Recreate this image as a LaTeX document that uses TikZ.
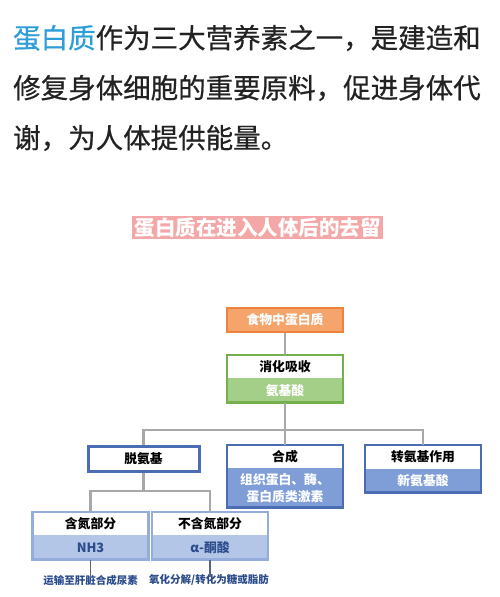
\documentclass[tikz,border=0pt]{standalone}
\usepackage{fontspec}
\newfontfamily\cjk{Noto Sans CJK SC}
\newfontfamily\cjkmed[FakeBold=0.6]{Noto Sans CJK SC}
\usetikzlibrary{positioning}
\definecolor{ink}{HTML}{222222}
\definecolor{sky}{HTML}{2E9ED8}
\definecolor{band}{HTML}{F4A7A7}
\definecolor{orfill}{HTML}{F5A46C}
\definecolor{ordraw}{HTML}{EE8340}
\definecolor{grfill}{HTML}{A4CF88}
\definecolor{grdraw}{HTML}{74B04C}
\definecolor{bldraw}{HTML}{4A6DB4}
\definecolor{blfill}{HTML}{7F9DD6}
\definecolor{lbdraw}{HTML}{94ADDC}
\definecolor{lbfill}{HTML}{B4C6E7}
\definecolor{navy}{HTML}{2B4C8C}
\definecolor{wire}{HTML}{A8A8A8}
\definecolor{tick}{HTML}{5A6378}
\tikzset{
  intro/.style={anchor=west, inner sep=0pt, text=ink, font=\cjkmed\fontsize{27.5}{30}\selectfont},
  box/.style={inner sep=0pt, minimum width=116pt, minimum height=23pt, align=center,
    font=\cjk\fontsize{12.8}{17}\selectfont\bfseries},
  hdr/.style={box, fill=white, text=black},
  body/.style={box, text=white},
  frame/.style={line width=2.5pt},
  link/.style={wire, line width=2.5pt},
  note/.style={inner sep=0pt, text=navy, font=\cjk\fontsize{10.5}{12}\selectfont\bfseries}
}
\begin{document}
\begin{tikzpicture}[x=1pt, y=-1pt]
  \useasboundingbox[fill=white] (0,0) rectangle (500,597);
  \node[intro] (l1) at (13,38) {\textcolor{sky}{蛋白质}作为三大营养素之一，是建造和};
  \node[intro] (l2) at (13,88) {修复身体细胞的重要原料，促进身体代};
  \node[intro] (l3) at (13,138) {谢，为人体提供能量。};
  \node[fill=band, text=white, inner xsep=2.5pt, inner ysep=0pt, minimum height=23pt,
    font=\cjk\fontsize{20.5}{22}\selectfont\bfseries] (title) at (257.5,227.5) {蛋白质在进入人体后的去留};

  \node[box, fill=orfill, draw=ordraw, frame, text=white, minimum height=24pt] (food) at (285,320) {食物中蛋白质};
  \node[hdr] (digh) at (285,366.5) {消化吸收};
  \node[body, fill=grfill, minimum height=24pt, below=0pt of digh] (digb) {氨基酸};
  \draw[grdraw, frame] (digh.north west) rectangle (digb.south east);

  \node[hdr, draw=bldraw, line width=3pt, minimum width=111pt, minimum height=25pt] (deam) at (143.5,458.5) {脱氨基};
  \node[hdr] (synh) at (285,456.5) {合成};
  \node[body, fill=blfill, minimum height=39pt, below=0pt of synh] (synb) {组织蛋白、酶、\\蛋白质类激素};
  \draw[bldraw, frame] (synh.north west) rectangle (synb.south east);
  \node[hdr, minimum height=24pt] (transh) at (423,457) {转氨基作用};
  \node[body, fill=blfill, below=0pt of transh] (transb) {新氨基酸};
  \draw[bldraw, frame] (transh.north west) rectangle (transb.south east);

  \node[hdr] (nh) at (90.5,523.5) {含氮部分};
  \node[body, fill=lbfill, text=navy, minimum height=24pt, below=0pt of nh] (nhb) {NH3};
  \draw[lbdraw, frame] (nh.north west) rectangle (nhb.south east);
  \node[hdr] (keto) at (210,523.5) {不含氮部分};
  \node[body, fill=lbfill, text=navy, minimum height=24pt, below=0pt of keto] (ketob) {α-酮酸};
  \draw[lbdraw, frame] (keto.north west) rectangle (ketob.south east);

  \node[note] (nhnote) at (90.5,580) {运输至肝脏合成尿素};
  \node[note] (ketonote) at (209,580) {氧化分解/转化为糖或脂肪};

  \coordinate (bus) at (0,430);
  \coordinate (sub) at (0,491);
  \draw[link] (food) -- (digh);
  \draw[link] (digb) -- (synh);
  \draw[link] (deam.north) |- (transh.north |- bus) -- (transh.north);
  \draw[link] (deam.south) -- (deam.south |- sub);
  \draw[link] (nh.north) |- (keto.north |- sub) -- (keto.north);
  \draw[tick, line width=1.8pt] (nhb.south) -- ([yshift=-3pt]nhnote.north);
  \draw[tick, line width=1.8pt] (ketob.south) -- ([yshift=-3pt]ketonote.north -| ketob.south);
\end{tikzpicture}
\end{document}
